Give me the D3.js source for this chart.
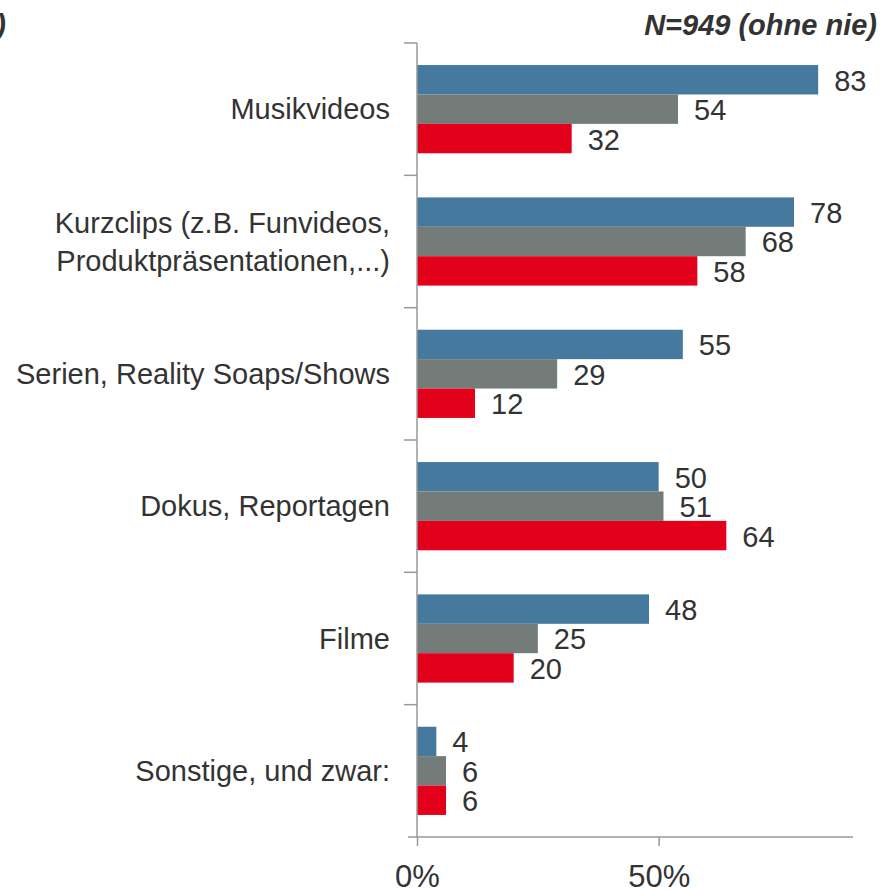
<!DOCTYPE html>
<html>
<head>
<meta charset="utf-8">
<title>Videoinhalte</title>
<script src="https://cdn.jsdelivr.net/npm/d3@7"></script>
<style>
  body { margin: 0; background: #fff; }
  text { font-family: Arial, "Liberation Sans", sans-serif; fill: #333; }
</style>
</head>
<body>
<svg width="883" height="890"></svg>
<script>
// data
var categories = ["Musikvideos", "Kurzclips", "Serien", "Dokus", "Filme", "Sonstige"];
var categoryLabels = [
  ["Musikvideos"],
  ["Kurzclips (z.B. Funvideos,", "Produktpräsentationen,...)"],
  ["Serien, Reality Soaps/Shows"],
  ["Dokus, Reportagen"],
  ["Filme"],
  ["Sonstige, und zwar:"]
];
var seriesNames = ["s1", "s2", "s3"];
var blueValues = [83, 78, 55, 50, 48, 4];
var greyValues = [54, 68, 29, 51, 25, 6];
var redValues  = [32, 58, 12, 64, 20, 6];
var xTicks = [0, 50];

var values = [blueValues, greyValues, redValues];
var colors = ["#457a9e", "#747c79", "#e2001a"];

var svg = d3.select("svg");

var x = d3.scaleLinear().domain([0, 90]).range([417, 852]);
var y0 = d3.scaleBand().domain(categories).range([43, 837]).padding(0);
var y1 = d3.scaleBand().domain(seriesNames).range([0, y0.bandwidth()]).paddingOuter(0.75).paddingInner(0);

// bars + labels
var groups = svg.append("g").selectAll("g")
  .data(categories)
  .enter().append("g")
  .attr("transform", function (d) { return "translate(0," + y0(d) + ")"; });

groups.each(function (cat, ci) {
  var g = d3.select(this);
  seriesNames.forEach(function (s, si) {
    var v = values[si][ci];
    g.append("rect")
      .attr("x", x(0))
      .attr("y", y1(s))
      .attr("width", x(v) - x(0))
      .attr("height", y1.bandwidth())
      .style("fill", colors[si]);
    g.append("text")
      .attr("x", x(v) + 16)
      .attr("y", y1(s) + y1.bandwidth() / 2 + 1)
      .attr("dominant-baseline", "central")
      .style("font-size", "29px")
      .text(v);
  });
});

// category labels
svg.append("g").selectAll("text")
  .data(categories)
  .enter().append("text")
  .attr("text-anchor", "end")
  .style("font-size", "29px")
  .each(function (d, i) {
    var lines = categoryLabels[i];
    var t = d3.select(this);
    var cy = y0(d) + y0.bandwidth() / 2;
    lines.forEach(function (l, li) {
      t.append("tspan")
        .attr("x", 390)
        .attr("y", cy + (li - (lines.length - 1) / 2) * 38)
        .attr("dominant-baseline", "central")
        .text(l);
    });
  });

// y axis with ticks between categories
var axisColor = "#999";
svg.append("line")
  .attr("x1", x(0)).attr("x2", x(0))
  .attr("y1", y0.range()[0]).attr("y2", y0.range()[1])
  .attr("stroke", axisColor).attr("stroke-width", 1.5);
var bounds = categories.map(function (d) { return y0(d); });
svg.append("g").selectAll("line")
  .data(bounds)
  .enter().append("line")
  .attr("x1", x(0) - 13).attr("x2", x(0))
  .attr("y1", function (d) { return d; }).attr("y2", function (d) { return d; })
  .attr("stroke", axisColor).attr("stroke-width", 1.5);

// x axis
var xAxis = svg.append("g")
  .attr("transform", "translate(0," + y0.range()[1] + ")")
  .call(d3.axisBottom(x).tickValues(xTicks).tickSize(9).tickPadding(19)
    .tickFormat(function (d) { return d + "%"; }));
xAxis.select(".domain")
  .attr("d", "M408,0H853")
  .attr("stroke", axisColor).attr("stroke-width", 1.5);
xAxis.selectAll(".tick line").attr("stroke", axisColor).attr("stroke-width", 1.5);
xAxis.selectAll(".tick text")
  .style("font-size", "31px")
  .style("font-family", "Arial, 'Liberation Sans', sans-serif")
  .attr("fill", "#333");

// header texts
svg.append("text")
  .attr("x", 877).attr("y", 35)
  .attr("text-anchor", "end")
  .style("font-size", "29px")
  .style("font-weight", "bold")
  .style("font-style", "italic")
  .text("N=949 (ohne nie)");

svg.append("text")
  .attr("x", 6).attr("y", 35)
  .attr("text-anchor", "end")
  .style("font-size", "29px")
  .style("font-weight", "bold")
  .style("font-style", "italic")
  .text(")");
</script>
</body>
</html>
